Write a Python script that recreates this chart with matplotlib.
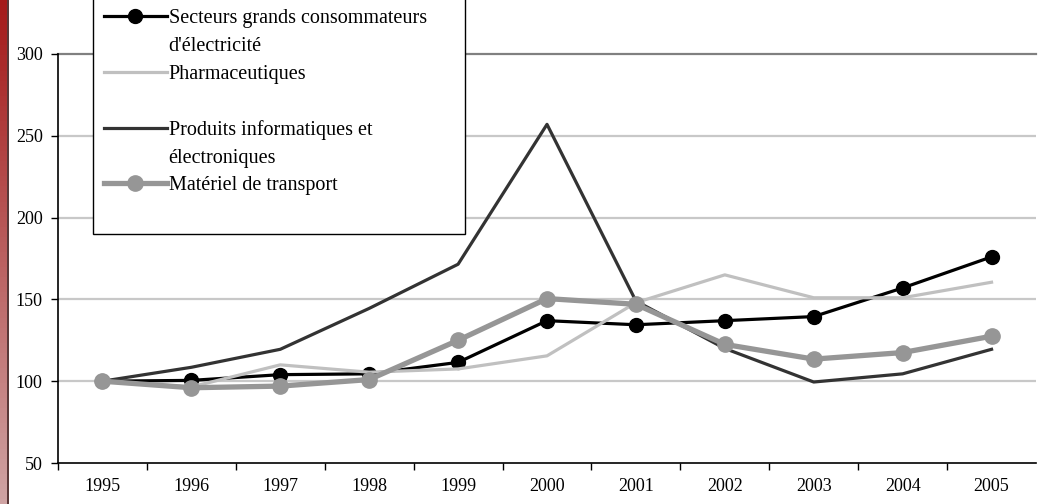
import matplotlib.pyplot as plt
import numpy as np
from matplotlib.lines import Line2D
from matplotlib.colors import LinearSegmentedColormap

plt.rcParams['font.family'] = ['Liberation Serif', 'DejaVu Serif']

# données (indice 1995 = 100)
annees = ['1995', '1996', '1997', '1998', '1999', '2000', '2001', '2002', '2003', '2004', '2005']
secteurs_elec = [100, 100.5, 104, 104.5, 111.5, 137, 134.5, 137, 139.5, 157, 176]
pharma = [100, 96.5, 110, 105.5, 107.5, 115.5, 148, 165, 151, 151, 160.5]
info_elec = [100, 108.5, 119.5, 144.5, 171.5, 257, 149, 120, 99.5, 104.5, 119.5]
transport = [100, 96, 97, 101, 125, 150.5, 147, 122.5, 113.5, 117.5, 127.5]

noms = ["Secteurs grands consommateurs", "d'électricité", "Pharmaceutiques", " ",
        "Produits informatiques et", "électroniques", "Matériel de transport", " "]
y_ticks = [50, 100, 150, 200, 250, 300]

fig = plt.figure(figsize=(10.38, 5.04), dpi=100)

# bandeau rouge à gauche
bande = fig.add_axes([0, 0, 7 / 1038, 1])
cmap = LinearSegmentedColormap.from_list('rouge', ['#a51a1a', '#cfa3a3'])
bande.imshow(np.linspace(0, 1, 100).reshape(-1, 1), aspect='auto', cmap=cmap)
bande.axis('off')
fig.add_artist(Line2D([7.5 / 1038, 7.5 / 1038], [0, 1], color='#3a1010', lw=1.2))

ax = fig.add_axes([58 / 1038, 1 - 463 / 504, (1036 - 58) / 1038, (463 - 54) / 504])
x = np.arange(len(annees))

l1, = ax.plot(x, secteurs_elec, color='black', lw=2.3, marker='o', ms=10, zorder=3)
l2, = ax.plot(x, pharma, color='#c0c0c0', lw=2.3, zorder=3)
l3, = ax.plot(x, info_elec, color='#333333', lw=2.3, zorder=3)
l4, = ax.plot(x, transport, color='#969696', lw=3.8, marker='o', ms=11, zorder=4)

ax.set_xlim(-0.5, len(annees) - 0.5)
ax.set_ylim(50, 300)
ax.set_yticks(y_ticks)
ax.set_yticklabels([str(v) for v in y_ticks], fontsize=13)
ax.set_xticks(x)
ax.set_xticklabels(annees, fontsize=13)
ax.set_xticks(np.arange(-0.5, len(annees) - 0.5, 1), minor=True)
ax.tick_params(axis='x', which='major', length=0, pad=11)
ax.tick_params(axis='x', which='minor', length=5, width=1, direction='out')
ax.tick_params(axis='y', length=5, width=1, direction='out', pad=6)

for v in y_ticks[1:-1]:
    ax.axhline(v, color='#c8c8c8', lw=1.6, zorder=1)
ax.axhline(300, color='#808080', lw=1.6, zorder=1, clip_on=False)

for s in ['top', 'right']:
    ax.spines[s].set_visible(False)
ax.spines['left'].set_linewidth(1.2)
ax.spines['bottom'].set_linewidth(1.2)

vide = Line2D([], [], linestyle='none')
handles = [l1, vide, l2, vide, l3, vide, l4, vide]
leg = fig.legend(handles, noms, loc='upper left',
                 bbox_to_anchor=(93 / 1038, 1 - 3 / 504, (465 - 93) / 1038, 0.01),
                 mode='expand', fontsize=14.5, frameon=True, fancybox=False,
                 edgecolor='black', framealpha=1, handlelength=3.1,
                 handletextpad=0.1, labelspacing=0.43, borderpad=0.55,
                 borderaxespad=0, markerscale=1.0)
leg.get_frame().set_linewidth(1)

fig.savefig('out.png', dpi=100)
